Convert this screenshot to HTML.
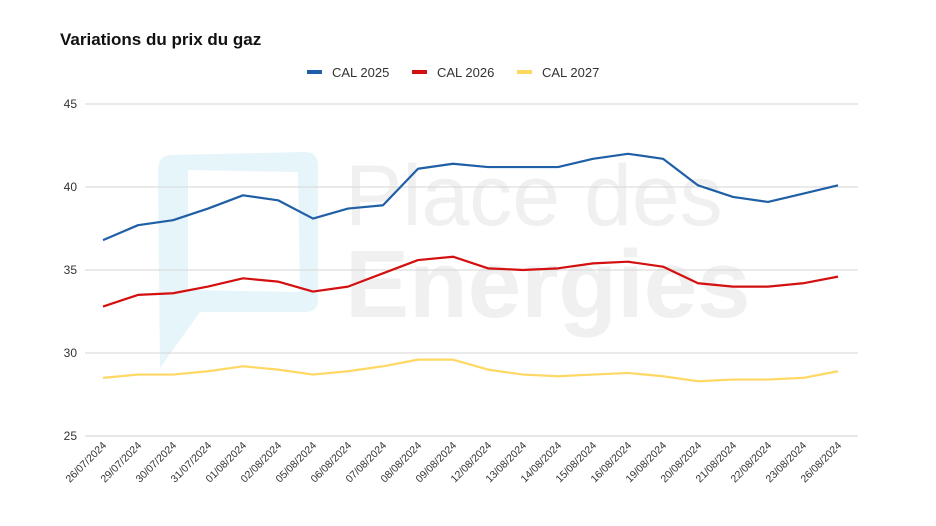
<!DOCTYPE html>
<html><head><meta charset="utf-8"><style>
body{margin:0;background:#fff;}
svg{display:block;font-family:"Liberation Sans",Arial,sans-serif;}
</style></head><body>
<svg id="chart" width="936" height="526" viewBox="0 0 936 526">
<rect width="936" height="526" fill="#fff"/>
<g opacity="1">
<path d="M170 155 L305 152 Q318 152 318 166 L318 300 Q318 312 305 312 L200 312 L160 368 L158 170 Q158 156 170 155 Z M188 170 L188 290 L300 292 L298 172 Z" fill="#e6f5fa" fill-rule="evenodd"/>
<text x="345" y="225" font-size="86" fill="#f0f0f0">Place des</text>
<text x="345" y="317" font-size="96" font-weight="bold" fill="#f0f0f0">Energies</text>
</g>
<text x="60" y="45" font-size="17" font-weight="bold" fill="#111">Variations du prix du gaz</text>
<g font-size="13" fill="#333">
<g><rect x="307" y="70" width="15" height="4" fill="#1f5fa6"/><text x="332" y="77">CAL 2025</text></g>
<g><rect x="412" y="70" width="15" height="4" fill="#d40f0f"/><text x="437" y="77">CAL 2026</text></g>
<g><rect x="517" y="70" width="15" height="4" fill="#ffd864"/><text x="542" y="77">CAL 2027</text></g>
</g>
<g id="grid"></g>
<g id="yaxis"></g>
<g id="xaxis"></g>
<g id="series"></g>
</svg>
<script>
const categories=["26/07/2024","29/07/2024","30/07/2024","31/07/2024","01/08/2024","02/08/2024","05/08/2024","06/08/2024","07/08/2024","08/08/2024","09/08/2024","12/08/2024","13/08/2024","14/08/2024","15/08/2024","16/08/2024","19/08/2024","20/08/2024","21/08/2024","22/08/2024","23/08/2024","26/08/2024"];
const cal2025=[36.8,37.7,38.0,38.7,39.5,39.2,38.1,38.7,38.9,41.1,41.4,41.2,41.2,41.2,41.7,42.0,41.7,40.1,39.4,39.1,39.6,40.1];
const cal2026=[32.8,33.5,33.6,34.0,34.5,34.3,33.7,34.0,34.8,35.6,35.8,35.1,35.0,35.1,35.4,35.5,35.2,34.2,34.0,34.0,34.2,34.6];
const cal2027=[28.5,28.7,28.7,28.9,29.2,29.0,28.7,28.9,29.2,29.6,29.6,29.0,28.7,28.6,28.7,28.8,28.6,28.3,28.4,28.4,28.5,28.9];
const yTicks=[25,30,35,40,45];
const NS="http://www.w3.org/2000/svg";
const x0=103,x1=838,yMin=25,yMax=45,yTop=104,yBot=436;
function xs(i){return x0+(x1-x0)*i/(categories.length-1);}
function ys(v){return yBot-(v-yMin)/(yMax-yMin)*(yBot-yTop);}
function mk(t,a,p){const e=document.createElementNS(NS,t);for(const k in a)e.setAttribute(k,a[k]);p.appendChild(e);return e;}
const grid=document.getElementById('grid'),ya=document.getElementById('yaxis'),xa=document.getElementById('xaxis'),se=document.getElementById('series');
yTicks.forEach(v=>{
 const l=mk('line',{x1:85,x2:858,y1:ys(v),y2:ys(v),stroke:v===25?'#d0d0d0':'#d6d6d6','stroke-width':1},grid);
 
 
 const t=mk('text',{x:77,y:ys(v)+4,'text-anchor':'end','font-size':12,fill:'#333'},ya);
 t.textContent=v;
 
 
});
categories.forEach((c,i)=>{
 const x=xs(i)+4,y=446;
 const t=mk('text',{x:x,y:y,'text-anchor':'end','font-size':10.5,fill:'#333',transform:`rotate(-45 ${x} ${y})`},xa);
 t.textContent=c;
 
 
});
[[cal2027,'#ffd864','cal-2027'],[cal2026,'#d40f0f','cal-2026'],[cal2025,'#1f5fa6','cal-2025']].forEach(([d,col,n])=>{
 const p=mk('polyline',{points:d.map((v,i)=>xs(i)+','+ys(v)).join(' '),fill:'none',stroke:col,'stroke-width':2.2,'stroke-linejoin':'round'},se);
 
 
});
</script>
</body></html>
